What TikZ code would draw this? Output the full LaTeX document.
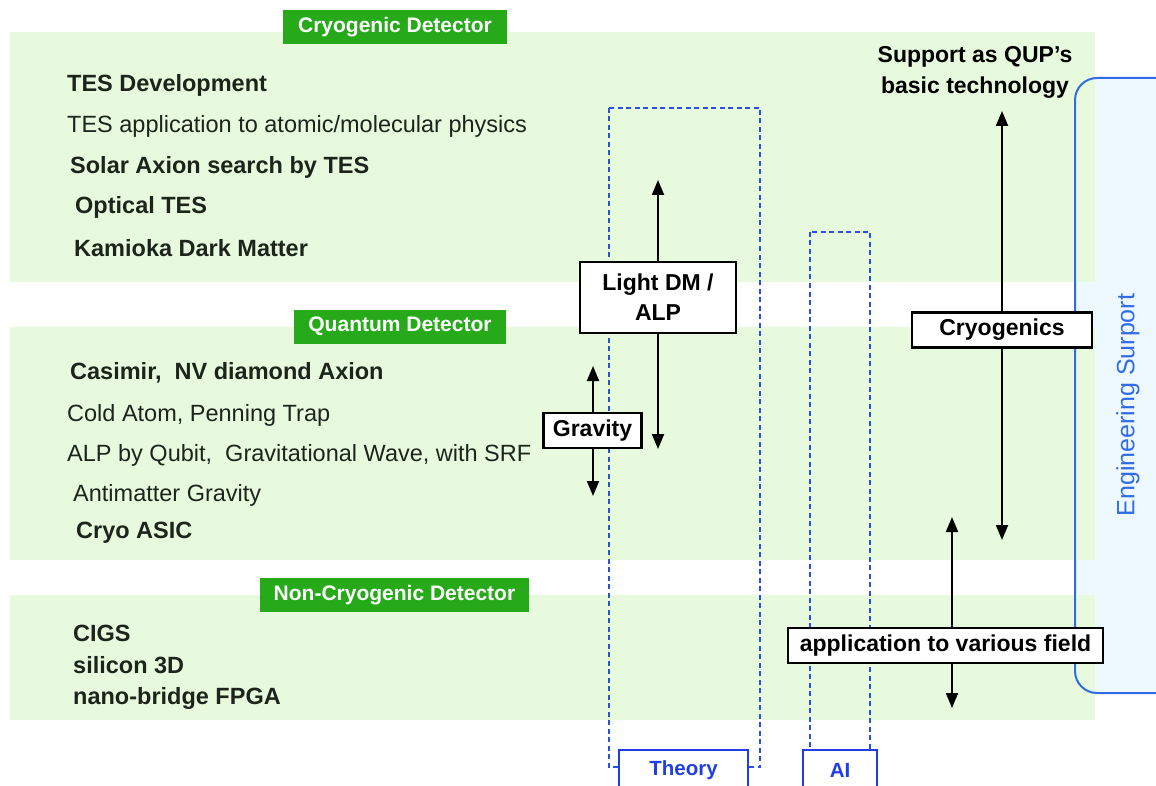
\documentclass[tikz,border=0pt]{standalone}
\usepackage{fontspec}
\setmainfont{Liberation Sans}
\usetikzlibrary{arrows.meta,calc}

\definecolor{bandgreen}{RGB}{231,250,221}
\definecolor{taggreen}{RGB}{38,170,26}
\definecolor{inkdark}{RGB}{28,36,28}
\definecolor{dashblue}{RGB}{40,80,232}
\definecolor{groupblue}{RGB}{32,62,228}
\definecolor{engblue}{RGB}{48,108,230}
\definecolor{engfill}{RGB}{238,248,255}

\begin{document}
\begin{tikzpicture}[x=1pt,y=-1pt,
  item/.style={anchor=base west,inner sep=0pt,text=inkdark,
    font=\fontsize{23.5}{28}\selectfont\bfseries},
  itemlight/.style={item,font=\fontsize{23.5}{28}\selectfont},
  tag/.style={fill=taggreen,text=white,inner sep=0pt,minimum height=34pt,
    font=\fontsize{21}{24}\selectfont\bfseries},
  topic/.style={draw=black,line width=2.2pt,fill=white,inner sep=0pt,
    minimum height=35pt,text=black,font=\fontsize{23}{30}\selectfont\bfseries},
  link/.style={line width=2pt,-{Triangle[length=15pt,width=12pt]}},
  column/.style={draw=dashblue,line width=2.8pt,dash pattern=on 5pt off 3.5pt},
  group/.style={draw=groupblue,line width=2.2pt,fill=white,text=groupblue,
    inner sep=0pt,minimum height=40pt,font=\fontsize{20.5}{24}\selectfont\bfseries},
  headline/.style={anchor=base,inner sep=0pt,text=black,
    font=\fontsize{23}{28}\selectfont\bfseries},
]
\clip (0,0) rectangle (1156,786);
\fill[white] (0,0) rectangle (1156,786);

% engineering support panel (fill first, outline after the bands)
\fill[engfill,rounded corners=22pt] (1075,78) rectangle (1190,693);

% detector bands
\fill[bandgreen] (10,32) rectangle (1095,282);
\fill[bandgreen] (10,327) rectangle (1095,560);
\fill[bandgreen] (10,595) rectangle (1095,720);

\draw[engblue,line width=2pt,rounded corners=22pt] (1075,78) rectangle (1190,693);
\node[rotate=90,inner sep=0pt,text=engblue,font=\fontsize{25}{28}\selectfont]
  (eng) at (1128,405) {Engineering Surport};

% band headers
\node[tag,minimum width=224pt] (cryoTag) at (395,27) {Cryogenic Detector};
\node[tag,minimum width=212pt] (quantTag) at (400,326.5) {Quantum Detector};
\node[tag,minimum width=269pt] (nonTag) at (394.5,595) {Non-Cryogenic Detector};

% cryogenic detector items
\node[item] (tesDev) at (67,92) {TES Development};
\node[itemlight] (tesApp) at (67,133) {TES application to atomic/molecular physics};
\node[item] (solar) at (70,174) {Solar Axion search by TES};
\node[item] (optical) at (75,214) {Optical TES};
\node[item] (kamioka) at (74,257) {Kamioka Dark Matter};

% quantum detector items
\node[item] (casimir) at (70,379) {Casimir,\ \ NV diamond Axion};
\node[itemlight] (coldAtom) at (67,421) {Cold Atom, Penning Trap};
\node[itemlight] (qubit) at (67,461) {ALP by Qubit,\ \ Gravitational Wave, with SRF};
\node[itemlight] (antimatter) at (73,501) {Antimatter Gravity};
\node[item] (asic) at (76,538) {Cryo ASIC};

% non-cryogenic detector items
\node[item] (cigs) at (73,641) {CIGS};
\node[item] (silicon) at (73,673) {silicon 3D};
\node[item] (fpga) at (73,704) {nano-bridge FPGA};

% theory and AI columns
\draw[column] (609,108) rectangle (760,767);
\draw[column] (810,232) rectangle (870,762);
\node[group,minimum width=129pt] (theory) at (683.5,770) {Theory};
\node[group,minimum width=74pt] (ai) at (840,770) {AI};

% top caption
\node[headline] (qupA) at (975,63) {Support as QUP’s};
\node[headline] (qupB) at (975,94) {basic technology};

% topic boxes
\node[topic,minimum width=156pt,minimum height=71pt,align=center]
  (ldm) at (658,297.5) {Light DM /\\ALP};
\node[topic,minimum width=98pt] (gravity) at (592.5,430.5) {Gravity};
\node[topic,minimum width=180pt] (cryogenics) at (1002,330) {Cryogenics};
\node[topic,minimum width=315pt] (app) at (945.5,645.5) {application to various field};

% arrow ends
\coordinate (ldmUp) at (658,180);
\coordinate (ldmDown) at (658,449);
\coordinate (gravUp) at (593,366);
\coordinate (gravDown) at (593,496);
\coordinate (cryoUp) at (1002,111);
\coordinate (cryoDown) at (1002,540);
\coordinate (appUp) at (952,517);
\coordinate (appDown) at (952,708);

\draw[link] (ldm) -- (ldmUp);
\draw[link] (ldm) -- (ldmDown);
\draw[link] (gravity.north -| gravUp) -- (gravUp);
\draw[link] (gravity.south -| gravDown) -- (gravDown);
\draw[link] (cryogenics) -- (cryoUp);
\draw[link] (cryogenics) -- (cryoDown);
\draw[link] (app.north -| appUp) -- (appUp);
\draw[link] (app.south -| appDown) -- (appDown);
\end{tikzpicture}
\end{document}
